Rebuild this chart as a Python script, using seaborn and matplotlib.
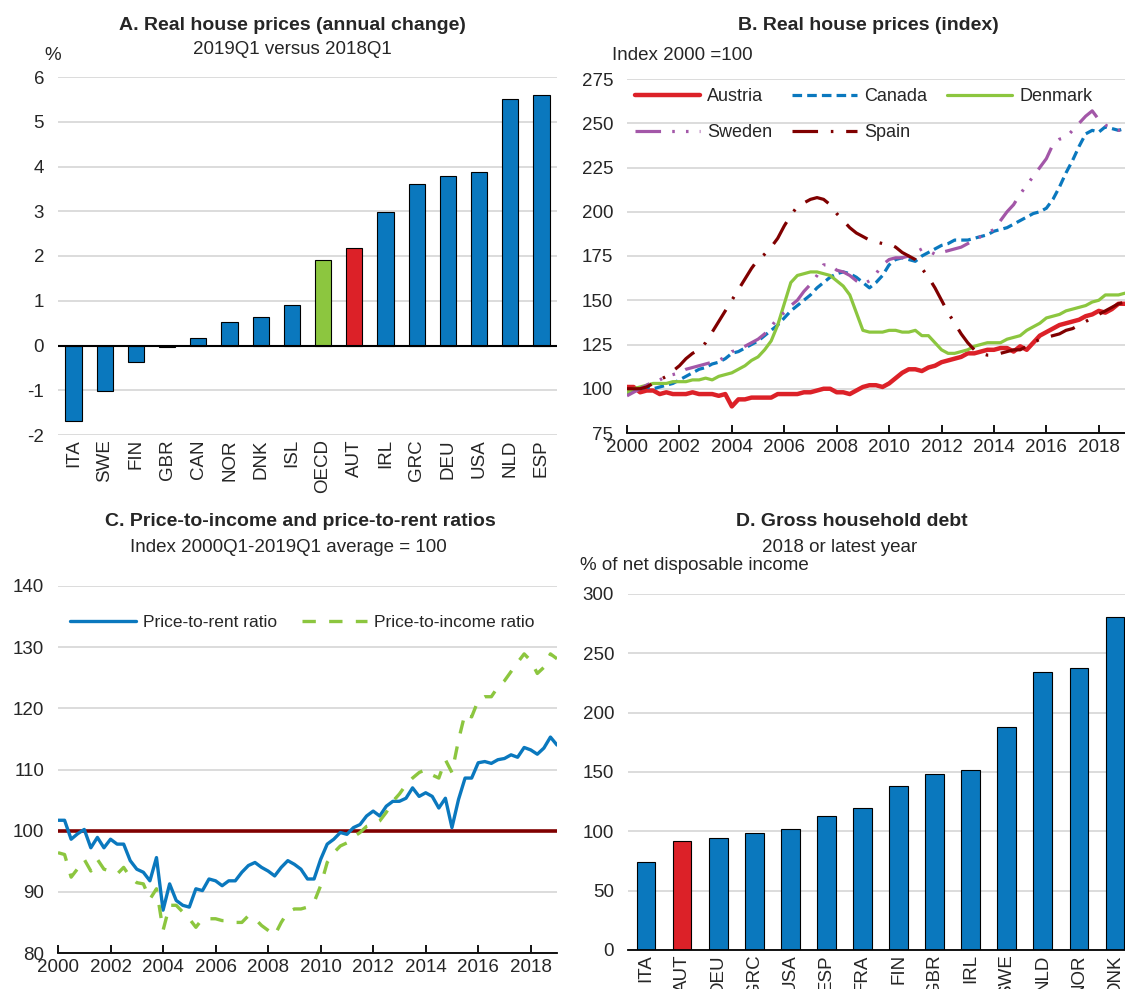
import numpy as np
import pandas as pd
import matplotlib
matplotlib.use("Agg")
import matplotlib.pyplot as plt
import seaborn as sns

# ---- data -------------------------------------------------------------
a_countries = ["ITA", "SWE", "FIN", "GBR", "CAN", "NOR", "DNK", "ISL",
               "OECD", "AUT", "IRL", "GRC", "DEU", "USA", "NLD", "ESP"]
a_change = [-1.68, -1.02, -0.36, -0.04, 0.17, 0.53, 0.63, 0.91,
            1.91, 2.18, 2.98, 3.60, 3.78, 3.88, 5.50, 5.60]

d_countries = ["ITA", "AUT", "DEU", "GRC", "USA", "ESP", "FRA", "FIN",
               "GBR", "IRL", "SWE", "NLD", "NOR", "DNK"]
d_debt = [74, 92, 94, 99, 102, 113, 120, 138, 148, 152, 188, 234, 238, 281]

# quarterly, 2000Q1 .. 2019Q1
austria = [101, 101, 98, 99, 99, 97, 98, 97, 97, 97, 98, 97, 97, 97, 96, 97,
           90, 94, 94, 95, 95, 95, 95, 97, 97, 97, 97, 98, 98, 99, 100, 100,
           98, 98, 97, 99, 101, 102, 102, 101, 103, 106, 109, 111, 111, 110, 112, 113,
           115, 116, 117, 118, 120, 120, 121, 122, 122, 123, 123, 121, 124, 122, 126, 130,
           132, 134, 136, 137, 138, 139, 141, 142, 144, 143, 145, 148, 148]
canada = [97, 99, 100, 101, 100, 101, 102, 103, 105, 107, 109, 111, 112, 114, 115, 117,
          120, 121, 123, 125, 127, 130, 133, 136, 140, 144, 147, 150, 153, 157, 160, 163,
          165, 166, 165, 163, 160, 157, 160, 164, 170, 173, 174, 173, 172, 175, 177, 179,
          181, 182, 184, 184, 184, 185, 186, 187, 189, 190, 191, 193, 195, 197, 199, 200,
          202, 207, 214, 222, 229, 237, 244, 246, 245, 248, 247, 246, 247]
denmark = [98, 100, 101, 102, 103, 103, 103, 104, 104, 104, 105, 105, 106, 105, 107, 108,
           109, 111, 113, 116, 118, 122, 127, 136, 148, 160, 164, 165, 166, 166, 165, 164,
           161, 158, 153, 143, 133, 132, 132, 132, 133, 133, 132, 132, 133, 130, 130, 126,
           122, 120, 120, 121, 122, 124, 125, 126, 126, 126, 128, 129, 130, 133, 135, 137,
           140, 141, 142, 144, 145, 146, 147, 149, 150, 153, 153, 153, 154]
sweden = [96, 98, 100, 102, 104, 105, 107, 108, 109, 111, 112, 113, 114, 115, 116, 118,
          121, 122, 124, 126, 128, 131, 135, 140, 143, 147, 150, 155, 159, 164, 170, 170,
          167, 166, 164, 161, 159, 161, 165, 170, 173, 174, 174, 175, 177, 179, 178, 176,
          177, 178, 179, 180, 182, 184, 186, 188, 190, 195, 200, 204, 210, 215, 220, 225,
          230, 238, 241, 242, 246, 250, 254, 257, 252, 249, 247, 246, 246]
spain = [100, 100, 100, 101, 103, 105, 107, 110, 113, 117, 120, 122, 126, 132, 138, 144,
         150, 156, 162, 168, 173, 176, 180, 185, 192, 198, 203, 205, 207, 208, 207, 204,
         199, 195, 191, 188, 186, 184, 183, 182, 182, 180, 177, 175, 173, 168, 163, 157,
         150, 143, 137, 131, 126, 122, 120, 119, 119, 120, 121, 122, 122, 124, 126, 128,
         129, 130, 131, 133, 134, 136, 138, 140, 142, 144, 146, 148, 149]

price_to_rent = [101.7, 101.7, 98.6, 99.5, 100.2, 97.2, 98.9, 97.2, 98.6, 97.8, 97.8, 95.1,
                 93.7, 93.2, 91.8, 95.6, 87.0, 91.3, 88.6, 87.8, 87.5, 90.5, 90.2, 92.1,
                 91.8, 91.0, 91.8, 91.8, 93.2, 94.3, 94.8, 94.0, 93.4, 92.6, 94.0, 95.1,
                 94.5, 93.7, 92.1, 92.1, 95.3, 97.8, 98.6, 99.7, 99.4, 100.5, 101.0, 102.4,
                 103.2, 102.4, 104.0, 104.8, 104.8, 105.3, 107.0, 105.6, 106.2, 105.6, 103.7, 105.3,
                 100.5, 105.1, 108.6, 108.6, 111.1, 111.3, 111.0, 111.6, 111.8, 112.4, 112.0, 113.6,
                 113.2, 112.5, 113.5, 115.3, 114.0]
price_to_income = [96.4, 96.1, 92.4, 93.8, 95.3, 93.4, 95.3, 93.7, 93.4, 92.9, 94.0, 92.4,
                   91.5, 91.3, 88.8, 90.5, 83.7, 87.8, 87.8, 86.7, 85.6, 84.2, 85.6, 85.6,
                   85.6, 85.3, 85.3, 85.0, 85.0, 86.1, 85.6, 84.5, 83.7, 82.9, 85.0, 86.7,
                   87.2, 87.2, 87.5, 88.3, 91.0, 94.8, 96.4, 97.5, 98.0, 99.0, 99.7, 100.7,
                   101.0, 101.6, 103.0, 104.8, 106.0, 107.5, 108.6, 109.5, 110.0, 109.1, 108.6, 111.6,
                   109.5, 114.8, 119.2, 118.6, 121.3, 121.9, 121.9, 123.5, 124.5, 126.0, 127.5, 128.9,
                   127.8, 125.7, 126.7, 128.9, 128.1]

years = 2000 + np.arange(len(austria)) / 4

# ---- style ------------------------------------------------------------
BLUE = "#0a78be"
RED = "#dc2128"
GREEN = "#8cc63f"
PURPLE = "#a357a8"
DRED = "#800000"
GRID = "#d9d9d9"

sns.set_theme(style="white")
plt.rcParams["font.family"] = ["Liberation Sans", "DejaVu Sans"]
plt.rcParams["font.size"] = 13.5
plt.rcParams["axes.unicode_minus"] = False

W, H = 1125, 989
fig = plt.figure(figsize=(W / 100, H / 100), dpi=100)


def box(left, right, top, bottom):
    return [left / W, 1 - bottom / H, (right - left) / W, (bottom - top) / H]


def base_style(ax):
    for s in ["top", "right", "left"]:
        ax.spines[s].set_visible(False)
    ax.grid(False)
    ax.yaxis.grid(True, color=GRID, lw=1.3)
    ax.set_axisbelow(True)
    ax.tick_params(axis="y", length=0, pad=10, labelsize=13.5)
    ax.set_xlabel("")
    ax.set_ylabel("")


def time_axis(ax):
    ax.set_xlim(2000, 2019)
    ax.set_xticks(range(2000, 2019, 2))
    ax.spines["bottom"].set_color("black")
    ax.spines["bottom"].set_linewidth(1.3)
    ax.tick_params(axis="x", direction="in", length=6, width=1.3, color="black",
                   labelsize=13.5, pad=4, bottom=True)


# ---- A ----------------------------------------------------------------
axA = fig.add_axes(box(58, 557, 77, 435))
dfa = pd.DataFrame({"country": a_countries, "value": a_change})
pal_a = {c: BLUE for c in a_countries}
pal_a["OECD"] = GREEN
pal_a["AUT"] = RED
sns.barplot(data=dfa, x="country", y="value", hue="country", palette=pal_a,
            legend=False, width=0.52, edgecolor="black", linewidth=0.8, saturation=1, ax=axA)
base_style(axA)
axA.spines["bottom"].set_visible(False)
axA.set_ylim(-2, 6)
axA.set_xlim(-0.5, 15.5)
axA.axhline(0, color="black", lw=1.5)
axA.tick_params(axis="x", length=0, pad=3, labelsize=13.5, labelrotation=90)
fig.text(292 / W, 1 - 25 / H, "A. Real house prices (annual change)", ha="center", va="center",
         fontsize=14, fontweight="bold")
fig.text(292 / W, 1 - 50 / H, "2019Q1 versus 2018Q1", ha="center", va="center", fontsize=13.5)
fig.text(53 / W, 1 - 55 / H, "%", ha="center", va="center", fontsize=13.5)

# ---- B ----------------------------------------------------------------
axB = fig.add_axes(box(627, 1125, 79, 433))
series_b = [("Austria", austria, RED, 3.2, None),
            ("Canada", canada, BLUE, 2.3, (0, (3, 1.6))),
            ("Denmark", denmark, GREEN, 2.3, None),
            ("Sweden", sweden, PURPLE, 2.3, (0, (8, 3.5, 0.8, 3.5, 0.8, 3.5))),
            ("Spain", spain, DRED, 2.3, (0, (8, 4, 0.8, 4)))]
for name, vals, col, lw, ls in series_b:
    sns.lineplot(x=years, y=vals, color=col, lw=lw, label=name, ax=axB)
    if ls is not None:
        axB.lines[-1].set_linestyle(ls)
base_style(axB)
time_axis(axB)
axB.set_ylim(75, 275)
axB.set_yticks(range(75, 276, 25))
handles, labels = axB.get_legend_handles_labels()
order = [0, 3, 1, 4, 2]  # row-major: Austria Canada Denmark / Sweden Spain
axB.legend([handles[i] for i in order], [labels[i] for i in order], ncol=3,
           loc="upper left", bbox_to_anchor=(-0.01, 1.01), frameon=False,
           handlelength=3.6, handletextpad=0.4, columnspacing=1.1, labelspacing=1.05,
           fontsize=13, borderaxespad=0.3)
fig.text(868 / W, 1 - 25 / H, "B. Real house prices (index)", ha="center", va="center",
         fontsize=14, fontweight="bold")
fig.text(612 / W, 1 - 55 / H, "Index 2000 =100", ha="left", va="center", fontsize=13.5)

# ---- C ----------------------------------------------------------------
axC = fig.add_axes(box(58, 557, 586, 953))
sns.lineplot(x=years, y=price_to_rent, color=BLUE, lw=2.4, label="Price-to-rent ratio", ax=axC)
sns.lineplot(x=years, y=price_to_income, color=GREEN, lw=2.4, label="Price-to-income ratio", ax=axC)
axC.lines[-1].set_linestyle((0, (4, 4)))
axC.axhline(100, color=DRED, lw=2.6, zorder=1.5)
base_style(axC)
time_axis(axC)
axC.set_ylim(80, 140)
axC.set_yticks(range(80, 141, 10))
axC.legend(ncol=2, loc="upper left", bbox_to_anchor=(0.0, 1 - 17 / 367), frameon=False,
           handlelength=3.8, handletextpad=0.4, columnspacing=1.4, fontsize=12.5,
           borderaxespad=0.3)
fig.text(300 / W, 1 - 522 / H, "C. Price-to-income and price-to-rent ratios", ha="center",
         va="center", fontsize=14, fontweight="bold")
fig.text(288 / W, 1 - 548 / H, "Index 2000Q1-2019Q1 average = 100", ha="center",
         va="center", fontsize=13.5)

# ---- D ----------------------------------------------------------------
axD = fig.add_axes(box(628, 1133, 594, 950))
dfd = pd.DataFrame({"country": d_countries, "value": d_debt})
pal_d = {c: BLUE for c in d_countries}
pal_d["AUT"] = RED
sns.barplot(data=dfd, x="country", y="value", hue="country", palette=pal_d,
            legend=False, width=0.52, edgecolor="black", linewidth=0.8, saturation=1, ax=axD)
base_style(axD)
axD.spines["bottom"].set_color("black")
axD.spines["bottom"].set_linewidth(1.3)
axD.set_ylim(0, 300)
axD.set_xlim(-0.5, 13.5)
axD.tick_params(axis="x", length=0, pad=3, labelsize=13.5, labelrotation=90)
fig.text(852 / W, 1 - 522 / H, "D. Gross household debt", ha="center", va="center",
         fontsize=14, fontweight="bold")
fig.text(840 / W, 1 - 548 / H, "2018 or latest year", ha="center", va="center", fontsize=13.5)
fig.text(580 / W, 1 - 566 / H, "% of net disposable income", ha="left", va="center",
         fontsize=13.5)

fig.savefig("out.png", dpi=100)
